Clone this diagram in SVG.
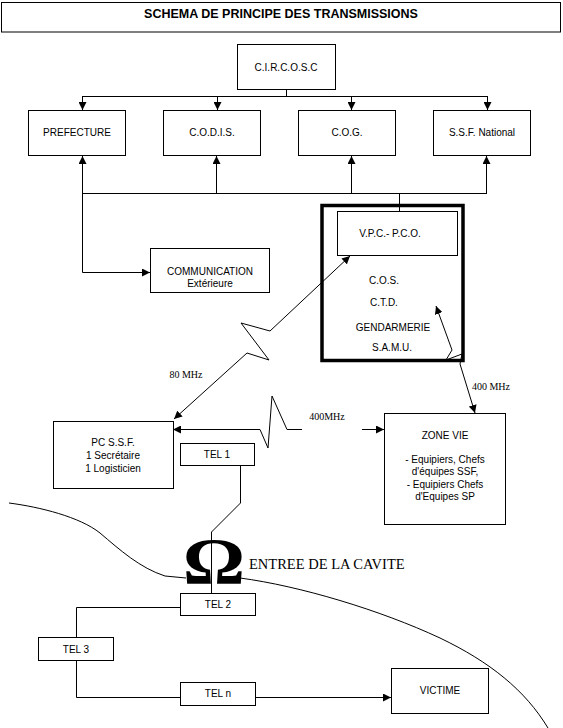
<svg xmlns="http://www.w3.org/2000/svg" width="563" height="728" viewBox="0 0 563 728">
<defs>
<style>
.box{fill:#fff;stroke:#000;stroke-width:1}
.thick{fill:none;stroke:#000;stroke-width:3.5}
.t{font-family:"Liberation Sans",Arial,sans-serif;font-size:10px;fill:#000;text-anchor:middle}
.s{font-family:"Liberation Serif","Times New Roman",serif;font-size:10px;fill:#000;text-anchor:middle}
.c{fill:none;stroke:#000;stroke-width:1}
</style>
<marker id="a" viewBox="0 0 8 8" refX="8" refY="4" markerWidth="8" markerHeight="8" markerUnits="userSpaceOnUse" orient="auto-start-reverse">
<path d="M0,0 L8,4 L0,8 z" fill="#000"/>
</marker>
</defs>
<rect width="563" height="728" fill="#fff"/>

<g id="title">
<rect class="box" x="1.5" y="2.5" width="559" height="29.5"/>
<text x="281" y="17.5" font-family="Liberation Sans,Arial,sans-serif" font-size="12.5" font-weight="bold" text-anchor="middle">SCHEMA DE PRINCIPE DES TRANSMISSIONS</text>
</g>

<g id="cave">
<path class="c" d="M9,503 C40,507 80,517 100,533 C120,550 140,568 165,576 L186,578"/>
<path class="c" d="M240,578 C300,586 380,610 440,638 C490,662 525,690 548,728"/>
</g>

<g id="connectors">
<path class="c" d="M286.5,89 V96.5 M82,96.5 H487.5"/>
<path class="c" d="M82.5,96 V110" marker-end="url(#a)"/>
<path class="c" d="M217.5,96 V110" marker-end="url(#a)"/>
<path class="c" d="M351.5,96 V110" marker-end="url(#a)"/>
<path class="c" d="M487.5,96 V110" marker-end="url(#a)"/>
<path class="c" d="M82,193.5 H486.5 M399.5,193 V211"/>
<path class="c" d="M82.5,194 V156" marker-end="url(#a)"/>
<path class="c" d="M216.5,194 V156" marker-end="url(#a)"/>
<path class="c" d="M351.5,194 V156" marker-end="url(#a)"/>
<path class="c" d="M486.5,194 V156" marker-end="url(#a)"/>
<path class="c" d="M82.5,193 V272.5 H150" marker-end="url(#a)"/>
<polyline class="c" points="350,256 270,331 241,323 269,360 247,353 174,419" marker-start="url(#a)" marker-end="url(#a)"/>
<polyline class="c" points="436,306 452,350 446,360 462,354 460,364 475,413" marker-start="url(#a)" marker-end="url(#a)"/>
<polyline class="c" points="302,429.5 287,429.5 272,396 268,448 260,429.5 173,429.5" marker-end="url(#a)"/>
<path class="c" d="M225,429.5 H240" stroke-width="2"/>
<path class="c" d="M362,429.5 H384" marker-end="url(#a)"/>
<path class="c" d="M240.5,465 V503 L211.5,532 V593"/>
<path class="c" d="M180,607.5 H76.5 V637"/>
<path class="c" d="M76.5,661 V697.5 H180"/>
<path class="c" d="M256,697.5 H391" marker-end="url(#a)"/>
</g>

<g id="labels">
<text class="s" x="186" y="378">80 MHz</text>
<text class="s" x="327" y="420">400MHz</text>
<text class="s" x="491" y="390">400 MHz</text>
</g>

<g id="circosc">
<rect class="box" x="237.5" y="44.5" width="98" height="45"/>
<text class="t" x="286" y="70.5">C.I.R.C.O.S.C</text>
</g>
<g id="prefecture">
<rect class="box" x="28.5" y="110.5" width="97" height="45"/>
<text class="t" x="77" y="136">PREFECTURE</text>
</g>
<g id="codis">
<rect class="box" x="163.5" y="110.5" width="97" height="45"/>
<text class="t" x="212" y="136">C.O.D.I.S.</text>
</g>
<g id="cog">
<rect class="box" x="298.5" y="110.5" width="97" height="45"/>
<text class="t" x="347" y="136">C.O.G.</text>
</g>
<g id="ssf-national">
<rect class="box" x="433.5" y="110.5" width="97" height="45"/>
<text class="t" x="482" y="136">S.S.F. National</text>
</g>
<g id="communication">
<rect class="box" x="150.5" y="248.5" width="119" height="44"/>
<text class="t" x="210" y="274.5">COMMUNICATION</text>
<text class="t" x="210" y="286.5">Extérieure</text>
</g>
<g id="pc-terrain">
<rect class="thick" x="322" y="205.5" width="141" height="155"/>
<text class="t" x="384" y="283.5">C.O.S.</text>
<text class="t" x="384" y="305.5">C.T.D.</text>
<text class="t" x="393" y="330.5">GENDARMERIE</text>
<text class="t" x="392" y="351">S.A.M.U.</text>
</g>
<g id="vpc">
<rect class="box" x="337.5" y="211.5" width="120" height="44"/>
<text class="t" x="390" y="236.5">V.P.C.- P.C.O.</text>
</g>
<g id="pc-ssf">
<rect class="box" x="53.5" y="421.5" width="120" height="67"/>
<text class="t" x="113" y="445.5">PC S.S.F.</text>
<text class="t" x="113" y="458.5">1 Secrétaire</text>
<text class="t" x="113" y="471.5">1 Logisticien</text>
</g>
<g id="tel1">
<rect class="box" x="180.5" y="443.5" width="74" height="22"/>
<text class="t" x="217" y="457.5">TEL 1</text>
</g>
<g id="zone-vie">
<rect class="box" x="384.5" y="413.5" width="121" height="111"/>
<text class="t" x="445" y="438.5">ZONE VIE</text>
<text class="t" x="445" y="463">- Equipiers, Chefs</text>
<text class="t" x="445" y="475">d'équipes SSF,</text>
<text class="t" x="445" y="487.5">- Equipiers Chefs</text>
<text class="t" x="445" y="499.5">d'Equipes SP</text>
</g>
<g id="entree">
<text x="0" y="0" transform="translate(214,583) scale(1.18,1)" font-family="Liberation Serif,Times New Roman,serif" font-weight="bold" font-size="66" text-anchor="middle">Ω</text>
<text x="249" y="569" font-family="Liberation Serif,Times New Roman,serif" font-size="14.5">ENTREE DE LA CAVITE</text>
</g>
<g id="tel2">
<rect class="box" x="180.5" y="593.5" width="75" height="22"/>
<text class="t" x="218" y="607.5">TEL 2</text>
</g>
<g id="tel3">
<rect class="box" x="38.5" y="637.5" width="75" height="23"/>
<text class="t" x="76" y="652.5">TEL 3</text>
</g>
<g id="teln">
<rect class="box" x="180.5" y="682.5" width="75" height="23"/>
<text class="t" x="218" y="697">TEL n</text>
</g>
<g id="victime">
<rect class="box" x="391.5" y="668.5" width="97" height="45"/>
<text class="t" x="440" y="694">VICTIME</text>
</g>
</svg>
